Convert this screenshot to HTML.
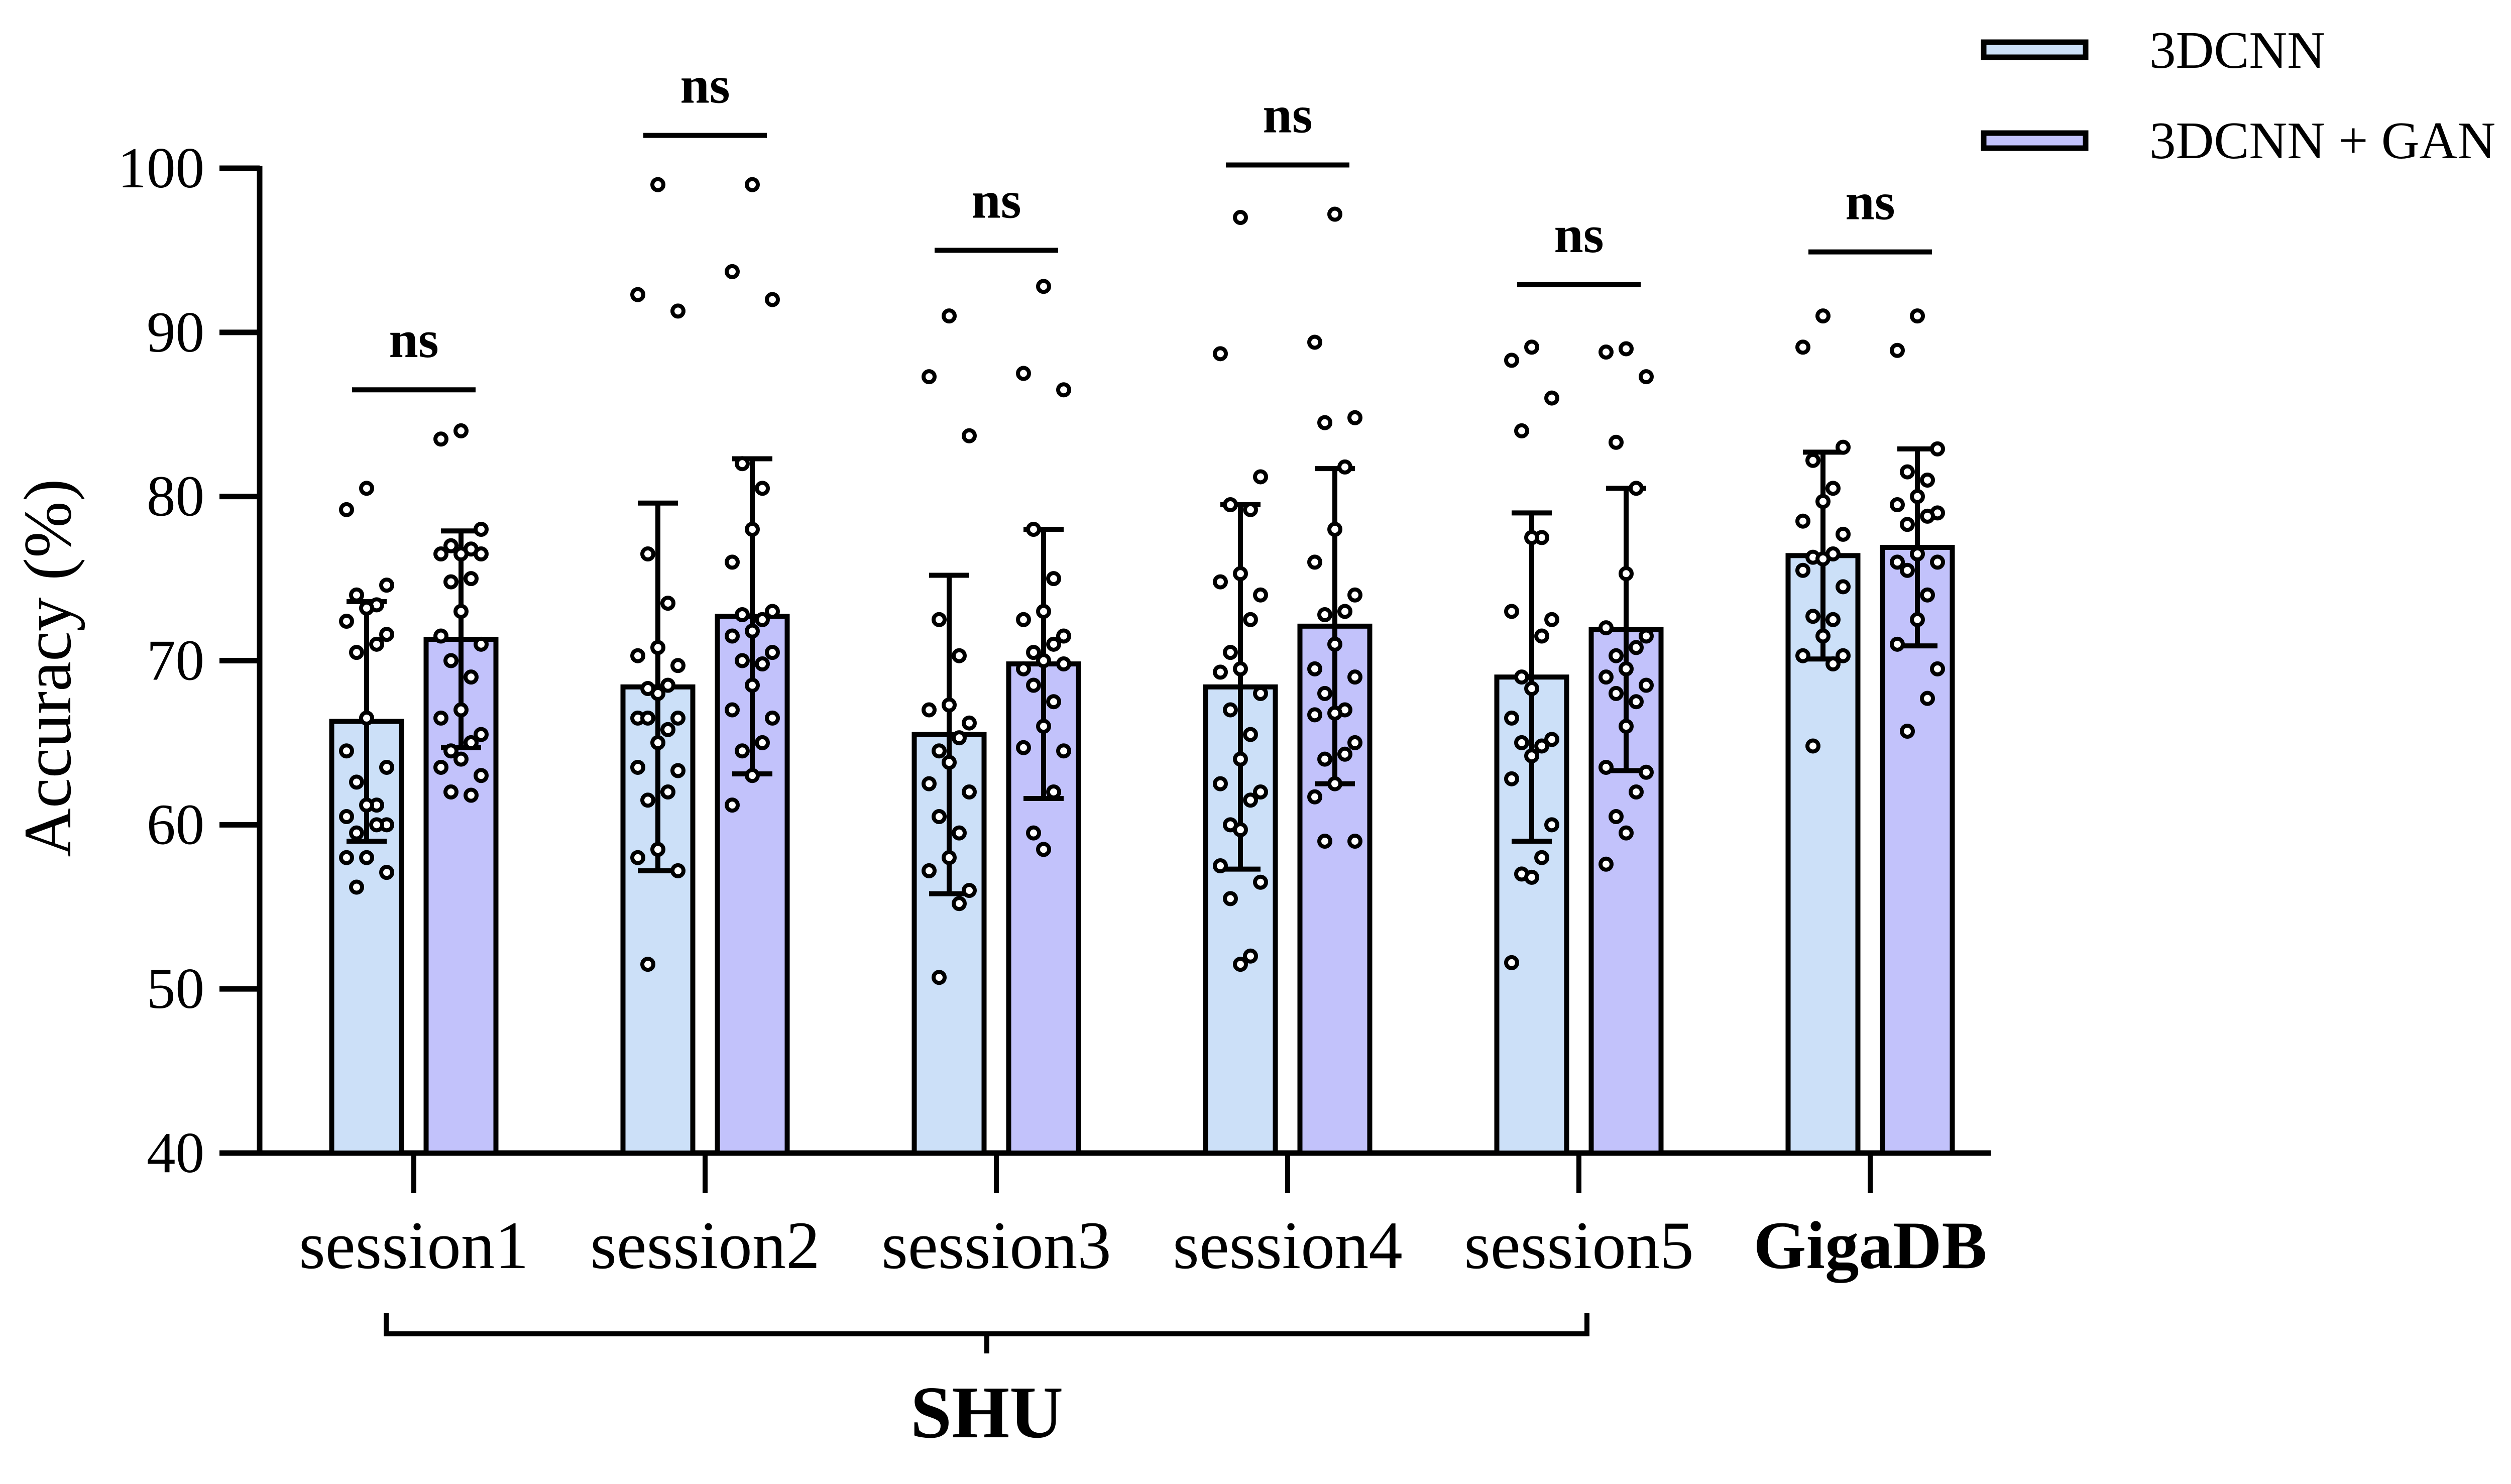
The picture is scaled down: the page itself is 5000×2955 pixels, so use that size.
<!DOCTYPE html>
<html><head><meta charset="utf-8"><style>
html,body{margin:0;padding:0;background:#fff;}
svg{display:block;font-family:"Liberation Serif","Times New Roman",serif;}
</style></head><body>
<svg id="chart" width="5000" height="2955" viewBox="0 0 5000 2955" xmlns="http://www.w3.org/2000/svg">
<g id="legend">
<rect x="3950" y="84" width="203" height="30" fill="#cce0f8" stroke="#000" stroke-width="11"/>
<text x="4280" y="135" font-size="105">3DCNN</text>
<rect x="3950" y="265" width="203" height="30" fill="#c2c2fb" stroke="#000" stroke-width="11"/>
<text x="4280" y="315" font-size="105">3DCNN + GAN</text>
</g>
<text transform="translate(140,1330) rotate(-90)" text-anchor="middle" font-size="135">Accuracy (%)</text>
<g id="plot"></g>
</svg>
<script>
const categories=["session1","session2","session3","session4","session5","GigaDB"];
const yTicks=[40,50,60,70,80,90,100];
const meanA=[66.3,68.4,65.5,68.4,69.0,76.4];
const meanB=[71.3,72.7,69.8,72.1,71.9,76.9];
const sdA=[7.3,11.2,9.7,11.1,10.0,6.3];
const sdB=[6.6,9.6,8.2,9.6,8.6,6.0];
const nsLevel=[86.5,102.0,95.0,100.2,92.9,94.9];
const nsLabels=["ns","ns","ns","ns","ns","ns"];
const pointsA=[
[80.5,79.2,74.6,74,73.4,73.2,72.4,71.6,71,70.5,66.5,64.5,63.5,62.6,61.2,61.2,60.5,60,60,59.5,58,58,57.1,56.2],
[99,92.3,91.3,76.5,73.5,70.8,70.3,69.7,68.5,68.3,68,66.5,66.5,66.5,65.8,65,63.5,63.3,62,61.5,58.5,58,57.2,51.5],
[91,87.3,83.7,72.5,70.3,67.3,67,66.2,65.3,64.5,63.8,62.5,62,60.5,59.5,58,57.2,56,55.2,50.7],
[97,88.7,81.2,79.5,79.2,75.3,74.8,74,72.5,70.5,69.5,69.3,68,67,65.5,64,62.5,62,61.5,60,59.7,57.5,56.5,55.5,52,51.5],
[89.1,88.3,86,84,77.5,77.5,73,72.5,71.5,69,68.3,66.5,65.2,65,64.8,64.2,62.8,60,58,57,56.8,51.6],
[91,89.1,83,82.2,80.5,79.7,78.5,77.7,76.5,76.3,76.2,75.5,74.5,72.7,72.5,71.5,70.3,70.3,69.8,64.8]];
const pointsB=[
[84,83.5,78,77,76.8,76.5,76.5,76.5,75,74.8,73,71.5,71,70,69,67,66.5,65.5,65,64.5,64,63.5,63,62,61.8],
[99,93.7,92,82,80.5,78,76,73,72.5,72.8,71.8,71.5,70.5,70,69.8,68.5,67,66.5,65,64.5,63,61.2],
[92.8,87.5,86.5,78,75,73,72.5,71.5,71,70.5,70,69.5,69.8,68.5,67.5,66,64.7,64.5,62,59.5,58.5],
[97.2,89.4,84.8,84.5,81.8,78,76,74,73,72.8,71,69.5,69,68,67,66.8,66.7,65,64.3,64,62.5,61.7,59,59],
[89,88.8,87.3,83.3,80.5,75.3,72,71.5,70.8,70.3,69.5,69,68.5,68,67.5,66,63.5,63.2,62,60.5,59.5,57.6],
[91,88.9,82.9,81.5,81,80,79.5,79,78.8,78.3,76.5,76,76,75.5,74,72.5,71,69.5,67.7,65.7]];

const NS="http://www.w3.org/2000/svg";
const plot=document.getElementById('plot');
const X0=517,X1=3964,Y0=2296,Y1=335;
function y(v){return Y0-(v-40)/(100-40)*(Y0-Y1);}
function gx(i){return 824+580*i;}
const BW=139,OFF=94;
function mk(tag,attrs,parent){const e=document.createElementNS(NS,tag);for(const k in attrs)e.setAttribute(k,attrs[k]);(parent||plot).appendChild(e);return e;}
let ax=mk('line',{x1:X0,y1:Y1-5,x2:X0,y2:Y0+5,stroke:'#000','stroke-width':11});


let xl=mk('line',{x1:X0-5,y1:Y0,x2:X1,y2:Y0,stroke:'#000','stroke-width':11});


yTicks.forEach(t=>{
 const l=mk('line',{x1:437,y1:y(t),x2:X0,y2:y(t),stroke:'#000','stroke-width':11});
 
 
 const tx=mk('text',{x:407,y:y(t)+38,'text-anchor':'end','font-size':115});
 tx.textContent=t;
 
 
});
const jit=[0,-2,2,-1,1,0,-2,2,1,-1];
function drawBar(i,cx,mean,sd,fill,pts,name){
 const r=mk('rect',{x:cx-BW/2,y:y(mean),width:BW,height:Y0-y(mean),fill:fill,stroke:'#000','stroke-width':10});
 
 
 const e=mk('path',{d:`M${cx},${y(mean+sd)}V${y(mean-sd)}M${cx-40},${y(mean+sd)}H${cx+40}M${cx-40},${y(mean-sd)}H${cx+40}`,stroke:'#000','stroke-width':10,fill:'none'});
 
 
 pts.forEach((v,k)=>{
  const c=mk('circle',{cx:cx+jit[k%jit.length]*20,cy:y(v),r:11,fill:'#fff',stroke:'#000','stroke-width':8});
  
  
 });
}
categories.forEach((c,i)=>{
 const g=gx(i);
 drawBar(i,g-OFF,meanA[i],sdA[i],'#cce0f8',pointsA[i],'3dcnn');
 drawBar(i,g+OFF,meanB[i],sdB[i],'#c2c2fb',pointsB[i],'gan');
 const tk=mk('line',{x1:g,y1:Y0,x2:g,y2:2376,stroke:'#000','stroke-width':10});
 
 
 const t=mk('text',{x:g,y:2525,'text-anchor':'middle','font-size':135,'font-weight':c==='GigaDB'?'bold':'normal'});
 t.textContent=c;
 
 
 const nl=mk('line',{x1:g-123,y1:y(nsLevel[i]),x2:g+123,y2:y(nsLevel[i]),stroke:'#000','stroke-width':10});
 
 
 const nt=mk('text',{x:g,y:y(nsLevel[i])-65,'text-anchor':'middle','font-size':105,'font-weight':'bold'});
 nt.textContent=nsLabels[i];
 
 
});
const br=mk('path',{d:'M769,2615V2656H3160V2615M1965,2656V2695',stroke:'#000','stroke-width':10,fill:'none'});


const shu=mk('text',{x:1965,y:2862,'text-anchor':'middle','font-size':148,'font-weight':'bold'});
shu.textContent='SHU';


</script>
</body></html>
